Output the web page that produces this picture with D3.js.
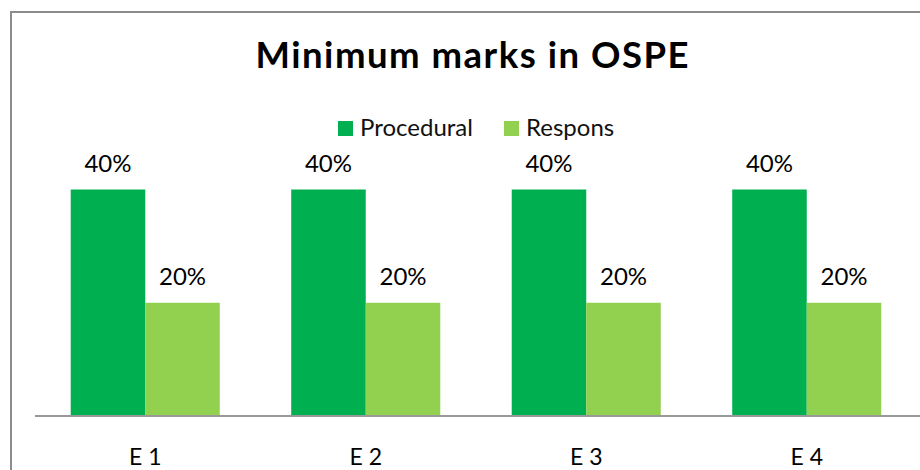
<!DOCTYPE html>
<html>
<head>
<meta charset="utf-8">
<script src="https://cdn.jsdelivr.net/npm/d3@7"></script>
<style>
  body { margin: 0; background: #fff; }
  svg { display: block; font-family: Lato, "Open Sans", sans-serif; }
</style>
</head>
<body>
<div id="chart"></div>
<script>
// Daten
var categories = ["E 1", "E 2", "E 3", "E 4"];
var seriesNames = ["Procedural", "Respons"];
var procedural = [0.40, 0.40, 0.40, 0.40];
var respons = [0.20, 0.20, 0.20, 0.20];
var colors = ["#00B050", "#92D050"];

var width = 920, height = 470;

var svg = d3.select("#chart")
    .append("svg")
    .attr("width", width)
    .attr("height", height);

// Rahmen
svg.append("rect")
    .attr("x", 11)
    .attr("y", 12)
    .attr("width", 1000)
    .attr("height", 1000)
    .attr("fill", "none")
    .attr("stroke", "#8c8c8c")
    .attr("stroke-width", 2);

// Titel
svg.append("text")
    .attr("x", 472)
    .attr("y", 68)
    .attr("text-anchor", "middle")
    .attr("font-weight", "bold")
    .attr("font-size", 36.5)
    .attr("textLength", 433)
    .attr("lengthAdjust", "spacing")
    .attr("fill", "#000")
    .text("Minimum marks in OSPE");

// Skalen
var x = d3.scaleBand()
    .domain(categories)
    .range([35, 917])
    .paddingInner(0.324)
    .paddingOuter(0.162);

var x1 = d3.scaleBand()
    .domain(seriesNames)
    .range([0, x.bandwidth()]);

var y = d3.scaleLinear()
    .domain([0, 0.4])
    .range([416, 189.5]);

var data = categories.map(function(c, i) {
    return { cat: c, values: [
        { name: seriesNames[0], value: procedural[i] },
        { name: seriesNames[1], value: respons[i] }
    ] };
});

var groups = svg.selectAll(".group")
    .data(data)
    .enter()
    .append("g")
    .attr("class", "group")
    .attr("transform", function(d) { return "translate(" + x(d.cat) + ",0)"; });

groups.selectAll("rect")
    .data(function(d) { return d.values; })
    .enter()
    .append("rect")
    .attr("x", function(d) { return x1(d.name); })
    .attr("y", function(d) { return y(d.value); })
    .attr("width", x1.bandwidth())
    .attr("height", function(d) { return y(0) - y(d.value); })
    .attr("fill", function(d, i) { return colors[i]; });

// Beschriftung der Balken
groups.selectAll(".lbl")
    .data(function(d) { return d.values; })
    .enter()
    .append("text")
    .attr("class", "lbl")
    .attr("x", function(d) { return x1(d.name) + x1.bandwidth() / 2; })
    .attr("y", function(d) { return y(d.value) - 18; })
    .attr("text-anchor", "middle")
    .attr("font-size", 24)
    .attr("fill", "#000")
    .text(function(d) { return d3.format(".0%")(d.value); });

// x-Achse
var xAxis = svg.append("g")
    .attr("transform", "translate(0," + y(0) + ")")
    .call(d3.axisBottom(x).tickSize(0).tickPadding(33));
xAxis.select(".domain")
    .attr("d", "M35,0H920")
    .attr("stroke", "#999")
    .attr("stroke-width", 2);
xAxis.selectAll("text")
    .attr("font-family", "Lato, sans-serif")
    .attr("font-size", 23)
    .attr("fill", "#000");

// Legende
var legendX = [338, 504];
var legend = svg.selectAll(".legend")
    .data(seriesNames)
    .enter()
    .append("g")
    .attr("class", "legend")
    .attr("transform", function(d, i) { return "translate(" + legendX[i] + ",121)"; });
legend.append("rect")
    .attr("width", 15)
    .attr("height", 15)
    .attr("fill", function(d, i) { return colors[i]; });
legend.append("text")
    .attr("x", 22)
    .attr("y", 15)
    .attr("font-size", 24)
    .attr("fill", "#111")
    .text(function(d) { return d; });
</script>
</body>
</html>
